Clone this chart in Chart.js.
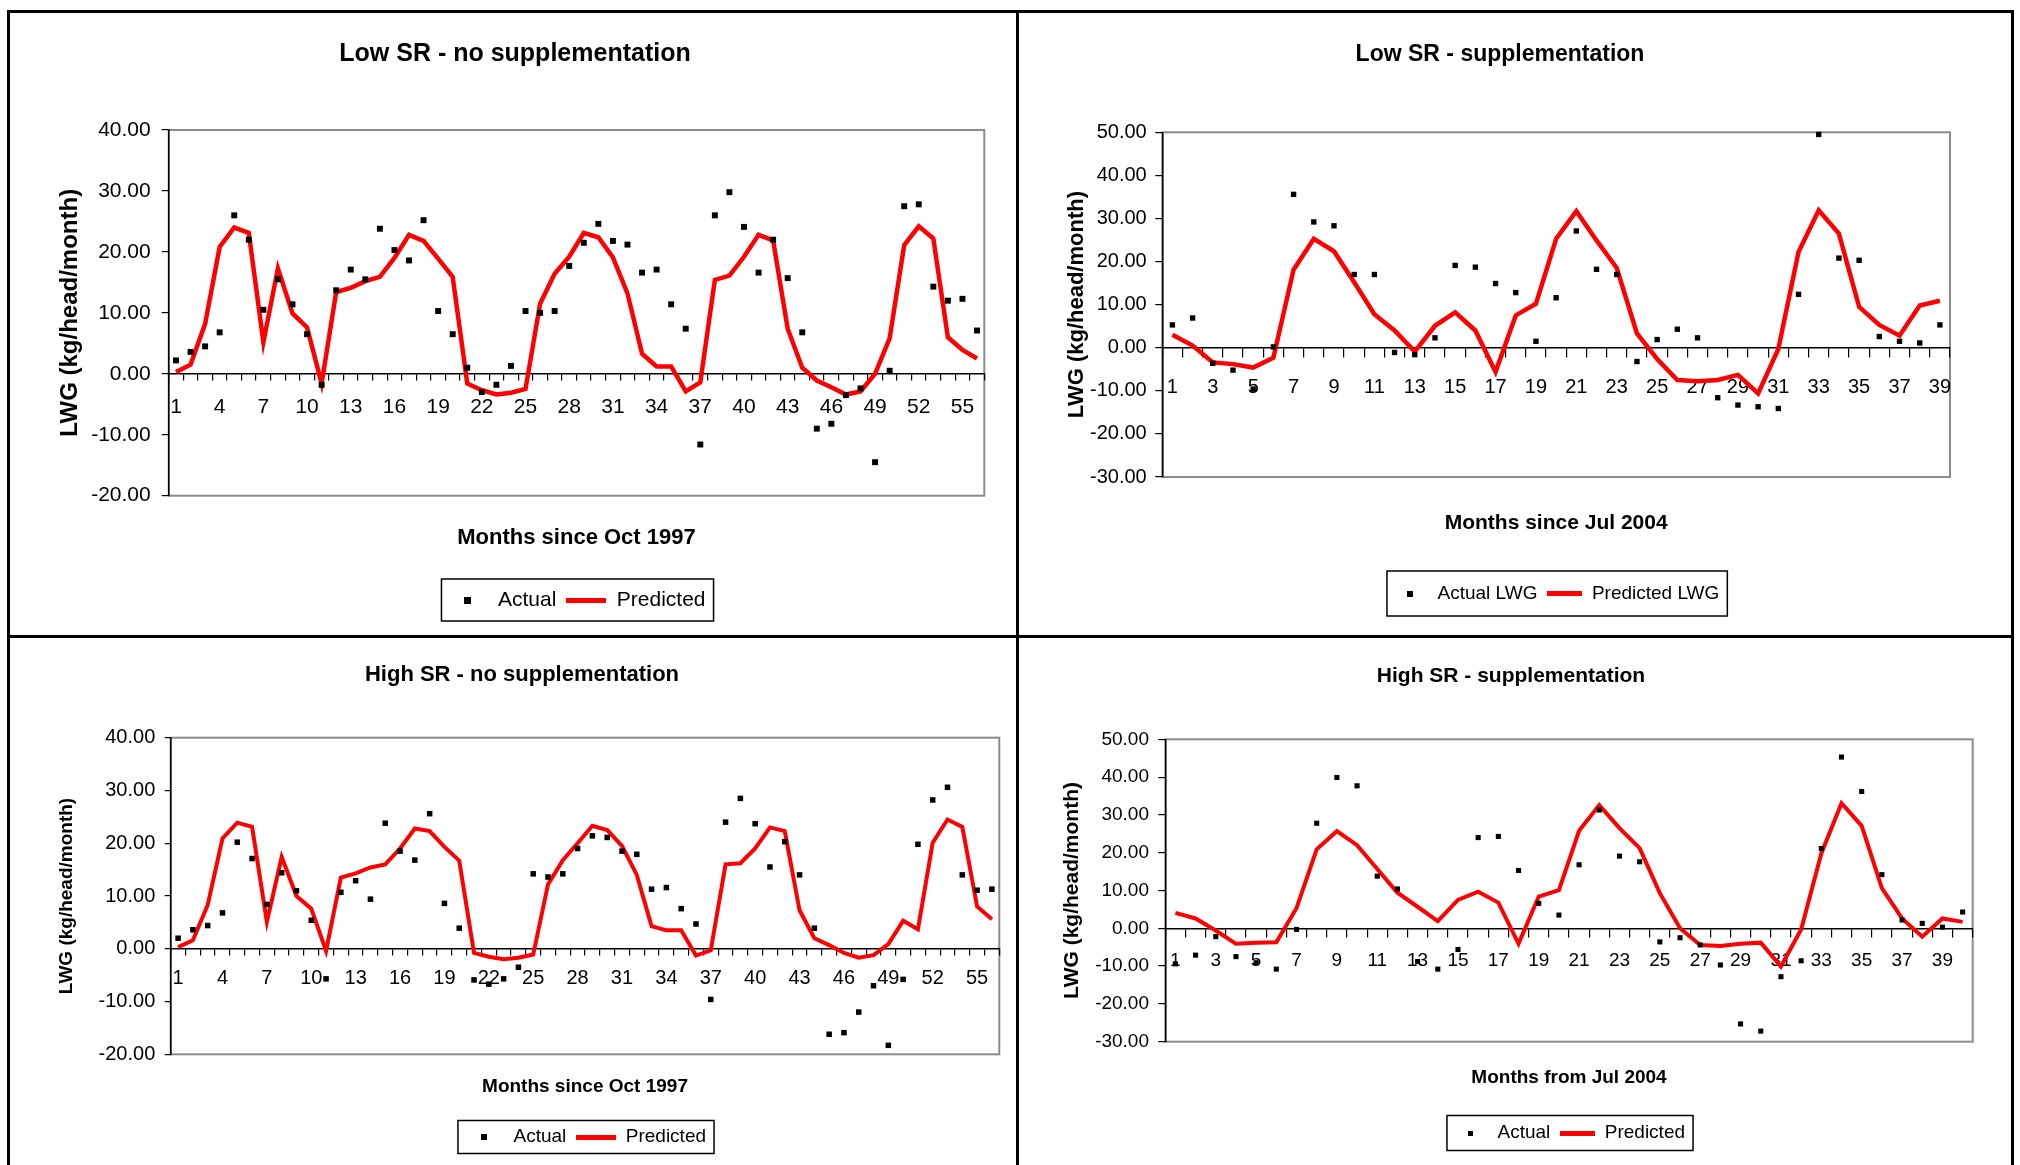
<!DOCTYPE html>
<html>
<head>
<meta charset="utf-8">
<title>LWG actual vs predicted</title>
<script src="https://cdn.jsdelivr.net/npm/chart.js@4.4.1/dist/chart.umd.min.js"></script>
<style>
  html, body { margin: 0; padding: 0; background: #fff; width: 2020px; height: 1165px; overflow: hidden; }
  canvas { position: absolute; }
  .rule { position: absolute; background: #000; }
</style>
</head>
<body>
<canvas id="lowNo" width="1006" height="625" style="left:10px;top:10px"></canvas>
<canvas id="lowSup" width="996" height="625" style="left:1020px;top:10px"></canvas>
<canvas id="highNo" width="1006" height="526" style="left:10px;top:639px"></canvas>
<canvas id="highSup" width="996" height="526" style="left:1020px;top:639px"></canvas>

<div class="rule" style="left:7px;top:10px;width:2007px;height:3px"></div>
<div class="rule" style="left:7px;top:10px;width:3px;height:1160px"></div>
<div class="rule" style="left:2011px;top:10px;width:3px;height:1160px"></div>
<div class="rule" style="left:1016px;top:10px;width:3px;height:1160px"></div>
<div class="rule" style="left:7px;top:635px;width:2007px;height:3px"></div>

<script>
// month indices on the category axes
const monthsOct97 = [1, 2, 3, 4, 5, 6, 7, 8, 9, 10, 11, 12, 13, 14, 15, 16, 17, 18, 19, 20,
  21, 22, 23, 24, 25, 26, 27, 28, 29, 30, 31, 32, 33, 34, 35, 36, 37, 38, 39, 40,
  41, 42, 43, 44, 45, 46, 47, 48, 49, 50, 51, 52, 53, 54, 55, 56];
const monthsJul04Low = [1, 2, 3, 4, 5, 6, 7, 8, 9, 10, 11, 12, 13, 14, 15, 16, 17, 18, 19, 20,
  21, 22, 23, 24, 25, 26, 27, 28, 29, 30, 31, 32, 33, 34, 35, 36, 37, 38, 39];
const monthsJul04High = [1, 2, 3, 4, 5, 6, 7, 8, 9, 10, 11, 12, 13, 14, 15, 16, 17, 18, 19, 20,
  21, 22, 23, 24, 25, 26, 27, 28, 29, 30, 31, 32, 33, 34, 35, 36, 37, 38, 39, 40];

// Low SR - no supplementation
const lowNoActual = [2.2, 3.6, 4.5, 6.8, 26.0, 22.0, 10.5, 15.5, 11.4, 6.5,
  -1.8, 13.7, 17.1, 15.5, 23.8, 20.3, 18.6, 25.2, 10.3, 6.5,
  1.0, -3.0, -1.8, 1.3, 10.3, 10.0, 10.3, 17.7, 21.5, 24.6,
  21.8, 21.2, 16.6, 17.1, 11.4, 7.4, -11.6, 26.0, 29.8, 24.1,
  16.6, 22.0, 15.7, 6.8, -9.0, -8.2, -3.5, -2.4, -14.5, 0.5,
  27.5, 27.8, 14.3, 12.0, 12.3, 7.1];
const lowNoPredicted = [0.3, 1.5, 8.2, 20.8, 24.0, 23.1, 5.2, 17.3, 9.9, 7.6,
  -1.6, 13.4, 14.1, 15.2, 15.9, 19.0, 22.8, 21.8, 18.9, 15.9,
  -1.6, -2.7, -3.4, -3.1, -2.5, 11.5, 16.4, 19.2, 23.1, 22.4,
  19.1, 13.2, 3.3, 1.2, 1.2, -2.9, -1.4, 15.4, 16.1, 19.2,
  22.8, 21.9, 7.4, 1.0, -1.1, -2.2, -3.4, -2.9, 0.0, 5.8,
  21.1, 24.2, 22.2, 6.0, 3.9, 2.5];

// Low SR - supplementation
const lowSupActual = [5.3, 6.9, -3.6, -5.2, -9.6, 0.2, 35.6, 29.2, 28.3, 17.0,
  17.0, -1.1, -1.6, 2.3, 19.1, 18.7, 14.9, 12.8, 1.5, 11.6,
  27.1, 18.2, 17.0, -3.2, 1.9, 4.3, 2.3, -11.6, -13.3, -13.7,
  -14.1, 12.4, 49.5, 20.8, 20.3, 2.6, 1.5, 1.1, 5.3];
const lowSupPredicted = [3.0, 0.5, -3.4, -3.8, -4.6, -2.3, 18.1, 25.3, 22.4, 15.2,
  7.8, 4.0, -0.9, 5.1, 8.2, 4.0, -5.6, 7.5, 10.2, 25.3,
  31.7, 24.9, 18.5, 3.3, -2.6, -7.5, -7.8, -7.5, -6.3, -10.6,
  -0.3, 22.2, 31.9, 26.5, 9.5, 5.3, 2.8, 9.8, 10.9];

// High SR - no supplementation
const highNoActual = [2.0, 3.6, 4.4, 6.8, 20.2, 17.1, 8.4, 14.4, 11.0, 5.4,
  -5.7, 10.7, 12.9, 9.4, 23.8, 18.5, 16.8, 25.6, 8.6, 3.9,
  -5.9, -6.7, -5.7, -3.5, 14.2, 13.6, 14.2, 19.0, 21.4, 21.1,
  18.5, 17.9, 11.3, 11.6, 7.6, 4.7, -9.6, 24.0, 28.5, 23.7,
  15.5, 20.3, 14.0, 3.9, -16.2, -15.9, -12.0, -7.0, -18.3, -5.8,
  19.8, 28.2, 30.6, 14.0, 11.1, 11.3];
const highNoPredicted = [0.3, 1.6, 8.3, 20.9, 23.9, 23.1, 5.1, 17.4, 10.0, 7.6,
  -0.4, 13.5, 14.3, 15.4, 16.0, 19.0, 22.8, 22.3, 19.3, 16.7,
  -0.8, -1.5, -2.0, -1.7, -1.1, 12.2, 16.8, 20.0, 23.3, 22.5,
  19.5, 14.0, 4.3, 3.5, 3.5, -1.3, -0.3, 16.0, 16.2, 19.0,
  23.0, 22.3, 7.3, 2.0, 0.7, -0.8, -1.7, -1.2, 0.9, 5.3,
  3.7, 20.1, 24.5, 23.1, 8.0, 5.6];

// High SR - supplementation
const highSupActual = [-9.4, -7.1, -2.2, -7.5, -9.1, -10.8, -0.3, 27.8, 39.9, 37.7,
  13.8, 10.4, -8.8, -10.8, -5.6, 24.0, 24.3, 15.3, 6.6, 3.5,
  16.8, 31.3, 19.1, 17.6, -3.6, -2.5, -4.4, -9.7, -25.3, -27.2,
  -12.8, -8.6, 21.1, 45.3, 36.2, 14.2, 2.2, 1.3, 0.3, 4.3];
const highSupPredicted = [4.1, 2.6, -0.6, -4.1, -3.8, -3.7, 5.3, 20.9, 25.7, 22.0,
  15.7, 9.4, 5.7, 1.9, 7.5, 9.7, 6.8, -4.1, 8.4, 10.1,
  25.8, 32.6, 26.5, 21.2, 9.3, 0.0, -4.4, -4.7, -4.1, -3.8,
  -10.1, -0.3, 19.8, 33.1, 27.1, 10.6, 2.6, -2.2, 2.6, 1.7];

Chart.defaults.font.family = "'Liberation Sans', Arial, sans-serif";
Chart.defaults.color = '#000';

// little bitmaps used as legend keys
function swatch(w, h, color) {
  const c = document.createElement('canvas');
  c.width = w;
  c.height = h;
  const g = c.getContext('2d');
  g.fillStyle = color;
  g.fillRect(0, 0, w, h);
  return c;
}

// grey plot-area box behind the axes, and a border round the legend
const excelFrame = {
  id: 'excelFrame',
  beforeDraw(chart) {
    const { ctx, chartArea: a } = chart;
    ctx.save();
    ctx.strokeStyle = '#8c8c8c';
    ctx.lineWidth = 2;
    ctx.strokeRect(a.left, a.top, a.right - a.left, a.bottom - a.top);
    ctx.restore();
  },
  afterDraw(chart, args, opts) {
    const boxes = chart.legend.legendHitBoxes;
    if (!boxes || !boxes.length) return;
    const left = Math.min(...boxes.map(b => b.left)) - 6;
    const right = Math.max(...boxes.map(b => b.left + b.width)) + 8;
    const top = boxes[0].top - opts.pad;
    const bottom = boxes[0].top + boxes[0].height + opts.pad;
    const ctx = chart.ctx;
    ctx.save();
    ctx.strokeStyle = '#000';
    ctx.lineWidth = 1.5;
    ctx.strokeRect(left, top, right - left, bottom - top);
    ctx.restore();
  }
};

function buildPanel(id, p) {
  const keys = [swatch(p.dot, p.dot, '#000'), swatch(p.keyWidth, 5, '#ff0000')];
  return new Chart(document.getElementById(id).getContext('2d'), {
    type: 'line',
    data: {
      labels: p.months,
      datasets: [
        {
          label: p.names[0],
          data: p.actual,
          showLine: false,
          pointStyle: 'rect',
          pointRadius: p.pointRadius,
          pointBorderWidth: 0,
          pointBackgroundColor: '#000',
          borderColor: '#000',
          backgroundColor: '#000',
          clip: false,
          order: 0
        },
        {
          label: p.names[1],
          data: p.predicted,
          borderColor: '#ff0000',
          backgroundColor: '#ff0000',
          borderWidth: p.lineWidth,
          pointRadius: 0,
          tension: 0,
          order: 1
        }
      ]
    },
    options: {
      responsive: false,
      animation: false,
      layout: { padding: { left: p.padLeft, right: p.padRight, top: 0, bottom: p.padBottom } },
      plugins: {
        title: {
          display: true,
          text: p.title,
          font: { size: p.titleSize, weight: 'bold' },
          padding: { top: p.titleTop, bottom: p.titleBottom }
        },
        legend: {
          position: 'bottom',
          fullSize: false,
          labels: {
            usePointStyle: true,
            pointStyleWidth: p.keyWidth,
            padding: 10,
            font: { size: p.legendSize },
            generateLabels(chart) {
              const items = Chart.defaults.plugins.legend.labels.generateLabels(chart);
              items.forEach((item, i) => { item.pointStyle = keys[i]; });
              return items;
            }
          }
        },
        tooltip: { enabled: false },
        excelFrame: { pad: p.legendPad }
      },
      scales: {
        x: {
          type: 'category',
          position: { y: 0 },
          offset: true,
          grid: { offset: true, drawOnChartArea: false, drawTicks: true, tickLength: p.xTick, color: '#000', lineWidth: 1.2 },
          border: { color: '#000', width: 1.5 },
          ticks: {
            autoSkip: false,
            maxRotation: 0,
            padding: p.xPad,
            font: { size: p.tickSize },
            callback(v, i) { return i % p.every === 0 ? this.getLabelForValue(v) : ''; }
          }
        },
        xTitle: {
          type: 'linear',
          position: 'bottom',
          grid: { display: false },
          border: { display: false },
          ticks: { display: false },
          title: {
            display: true,
            text: p.xTitle,
            font: { size: p.axisTitleSize, weight: 'bold' },
            padding: { top: 0, bottom: p.xTitleBottom }
          },
          afterFit(s) { s.height = p.xTitleBand; }
        },
        y: {
          min: p.yMin,
          max: p.yMax,
          grid: { drawOnChartArea: false, drawTicks: true, tickLength: p.yTick, color: '#000', lineWidth: 1.2 },
          border: { color: '#000', width: 1.5 },
          ticks: {
            stepSize: 10,
            padding: p.yPad,
            font: { size: p.tickSize },
            callback: v => v.toFixed(2)
          },
          title: {
            display: true,
            text: 'LWG (kg/head/month)',
            font: { size: p.yTitleSize, weight: 'bold' },
            padding: { top: p.yTitleInset, bottom: 0 }
          },
          afterFit(s) { s.width = p.yBand; }
        }
      }
    },
    plugins: [excelFrame]
  });
}

buildPanel('lowNo', {
  title: 'Low SR - no supplementation', xTitle: 'Months since Oct 1997',
  names: ['Actual', 'Predicted'], months: monthsOct97,
  actual: lowNoActual, predicted: lowNoPredicted, yMin: -20, yMax: 40, every: 3,
  padLeft: 35.7, padRight: 31.7, padBottom: 14.5, titleSize: 25, titleTop: 29, titleBottom: 61,
  yBand: 123, yTitleSize: 24, yTitleInset: 9.9, tickSize: 21, yTick: 7, yPad: 11,
  xTick: 6, xPad: 15.2, axisTitleSize: 22, xTitleBand: 83.8, xTitleBottom: 28.3,
  legendSize: 21, keyWidth: 40, legendPad: 10.5, dot: 7, pointRadius: 4.2, lineWidth: 4.5
});

buildPanel('lowSup', {
  title: 'Low SR - supplementation', xTitle: 'Months since Jul 2004',
  names: ['Actual LWG', 'Predicted LWG'], months: monthsJul04Low,
  actual: lowSupActual, predicted: lowSupPredicted, yMin: -30, yMax: 50, every: 2,
  padLeft: 30, padRight: 66, padBottom: 22, titleSize: 23, titleTop: 31.2, titleBottom: 63.5,
  yBand: 112.3, yTitleSize: 22, yTitleInset: 13.8, tickSize: 20, yTick: 7, yPad: 8.6,
  xTick: 9, xPad: 18.7, axisTitleSize: 21, xTitleBand: 97, xTitleBottom: 38.4,
  legendSize: 19, keyWidth: 35, legendPad: 13, dot: 6, pointRadius: 3.8, lineWidth: 4.5
});

buildPanel('highNo', {
  title: 'High SR - no supplementation', xTitle: 'Months since Oct 1997',
  names: ['Actual', 'Predicted'], months: monthsOct97,
  actual: highNoActual, predicted: highNoPredicted, yMin: -20, yMax: 40, every: 3,
  padLeft: 34.7, padRight: 16.7, padBottom: 8.5, titleSize: 22, titleTop: 22.8, titleBottom: 49.5,
  yBand: 126, yTitleSize: 19, yTitleInset: 10.9, tickSize: 20, yTick: 6, yPad: 9.4,
  xTick: 6, xPad: 11.4, axisTitleSize: 19, xTitleBand: 63.2, xTitleBottom: 19.1,
  legendSize: 19, keyWidth: 40, legendPad: 7, dot: 6, pointRadius: 3.9, lineWidth: 4
});

buildPanel('highSup', {
  title: 'High SR - supplementation', xTitle: 'Months from Jul 2004',
  names: ['Actual', 'Predicted'], months: monthsJul04High,
  actual: highSupActual, predicted: highSupPredicted, yMin: -30, yMax: 50, every: 2,
  padLeft: 29.3, padRight: 43.3, padBottom: 12.5, titleSize: 21, titleTop: 24.4, titleBottom: 50.7,
  yBand: 116, yTitleSize: 21, yTitleInset: 10.1, tickSize: 19, yTick: 7, yPad: 9.3,
  xTick: 8, xPad: 12.6, axisTitleSize: 19, xTitleBand: 71.8, xTitleBottom: 24.1,
  legendSize: 19, keyWidth: 35, legendPad: 8, dot: 5, pointRadius: 3.6, lineWidth: 4
});
</script>
</body>
</html>
